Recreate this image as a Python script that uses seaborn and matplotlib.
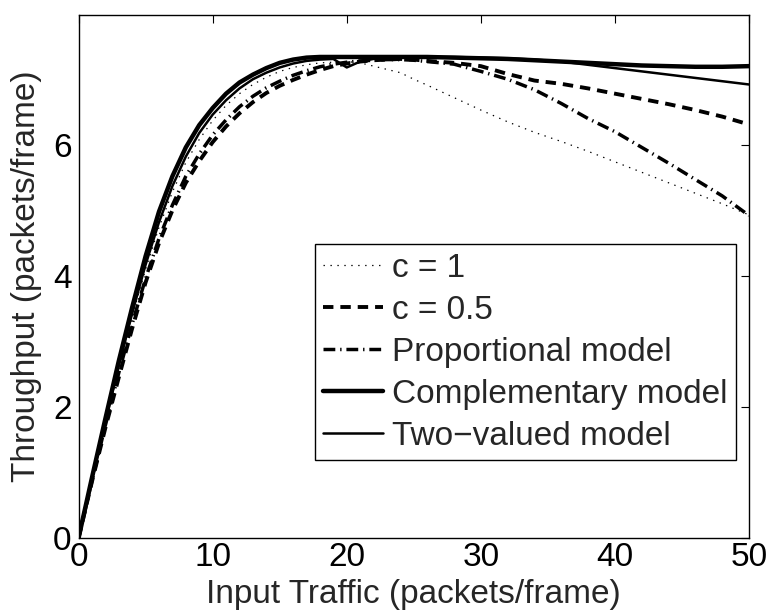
import numpy as np
import pandas as pd
import matplotlib
matplotlib.use("Agg")
import matplotlib.pyplot as plt
import seaborn as sns

# Input traffic (packets/frame)
traffic = [0, 1, 2, 3, 4, 5, 6, 7, 8, 9, 10, 11, 12, 13, 14, 15, 16, 17, 18, 19,
           20, 21, 22, 23, 24, 25, 26, 28, 30, 32, 34, 36, 38, 40, 42, 44, 46, 48, 50]

# Throughput (packets/frame) for each estimator
c_one = [0, 0.90, 1.77, 2.60, 3.38, 4.10, 4.74, 5.28, 5.73, 6.08, 6.37, 6.60, 6.78, 6.92,
         7.03, 7.12, 7.18, 7.22, 7.25, 7.26, 7.27, 7.25, 7.20, 7.15, 7.10, 7.00, 6.91,
         6.72, 6.53, 6.35, 6.19, 6.05, 5.90, 5.74, 5.58, 5.42, 5.26, 5.10, 4.93]
c_half = [0, 0.86, 1.68, 2.45, 3.20, 3.90, 4.50, 5.00, 5.42, 5.75, 6.04, 6.28, 6.48, 6.65,
          6.79, 6.90, 6.99, 7.07, 7.14, 7.20, 7.24, 7.27, 7.29, 7.30, 7.31, 7.30, 7.28,
          7.25, 7.20, 7.08, 6.98, 6.93, 6.86, 6.78, 6.70, 6.62, 6.53, 6.43, 6.31]
proportional = [0, 0.87, 1.72, 2.52, 3.27, 3.96, 4.57, 5.08, 5.52, 5.86, 6.15, 6.38, 6.58,
                6.74, 6.87, 6.97, 7.06, 7.13, 7.19, 7.23, 7.26, 7.28, 7.29, 7.30, 7.30,
                7.29, 7.27, 7.23, 7.12, 7.00, 6.84, 6.63, 6.40, 6.20, 5.96, 5.72, 5.47,
                5.22, 4.92]
complementary = [0, 0.92, 1.82, 2.70, 3.52, 4.30, 4.98, 5.52, 5.96, 6.30, 6.56, 6.78, 6.95,
                 7.07, 7.17, 7.25, 7.30, 7.33, 7.34, 7.34, 7.34, 7.34, 7.34, 7.34, 7.34,
                 7.34, 7.34, 7.33, 7.32, 7.31, 7.29, 7.27, 7.25, 7.23, 7.21, 7.20, 7.19,
                 7.19, 7.20]
two_valued = [0, 0.90, 1.78, 2.63, 3.43, 4.17, 4.82, 5.37, 5.82, 6.18, 6.46, 6.68, 6.86,
              7.00, 7.10, 7.18, 7.24, 7.28, 7.30, 7.31, 7.18, 7.27, 7.31, 7.33, 7.34,
              7.34, 7.34, 7.34, 7.33, 7.32, 7.30, 7.27, 7.22, 7.17, 7.12, 7.07, 7.02,
              6.97, 6.92]

labels = ["c = 1", "c = 0.5", "Proportional model",
          "Complementary model", "Two\u2212valued model"]
x_ticks = [0, 10, 20, 30, 40, 50]
y_ticks = [0, 2, 4, 6]

sns.set_style("white")
plt.rcParams["font.family"] = ["Liberation Sans", "DejaVu Sans"]
plt.rcParams["lines.scale_dashes"] = False

FS = 24

fig = plt.figure(figsize=(7.70, 6.13), dpi=100)
ax = fig.add_axes([0.102, 0.1223, 0.8708, 0.8532])

series = [c_one, c_half, proportional, complementary, two_valued]
styles = [
    dict(linewidth=0.9, linestyle=(0, (1.0, 4.0))),
    dict(linewidth=2.8, linestyle=(0, (7.5, 5.0))),
    dict(linewidth=2.5, linestyle=(0, (8.5, 3.5, 1.0, 3.5))),
    dict(linewidth=3.2, linestyle="-"),
    dict(linewidth=1.8, linestyle="-"),
]

for vals, lab, st in zip(series, labels, styles):
    df = pd.DataFrame({"traffic": traffic, "throughput": vals})
    sns.lineplot(data=df, x="traffic", y="throughput", ax=ax, color="black",
                 label=lab, estimator=None, sort=False, **st)

ax.set_xlim(0, 50)
ax.set_ylim(0, 7.98)
ax.set_xticks(x_ticks)
ax.set_yticks(y_ticks)
ax.tick_params(direction="in", length=5.5, width=0.8, top=True, right=True,
               labelsize=FS, colors="black")
ax.tick_params(axis="x", pad=3)
ax.tick_params(axis="y", pad=5)
for sp in ax.spines.values():
    sp.set_color("black")
    sp.set_linewidth(1.0)

ax.set_xlabel("Input Traffic (packets/frame)", fontsize=FS, labelpad=4)
ax.set_ylabel("Throughput (packets/frame)", fontsize=FS, labelpad=8)

leg = ax.legend(loc="lower right", bbox_to_anchor=(0.9806, 0.149),
                borderaxespad=0, fontsize=FS, handlelength=1.8,
                handletextpad=0.27, labelspacing=0.33, borderpad=0.25,
                fancybox=False, framealpha=1, edgecolor="black")
leg.get_frame().set_linewidth(1.0)

fig.savefig("out.png", dpi=100)
